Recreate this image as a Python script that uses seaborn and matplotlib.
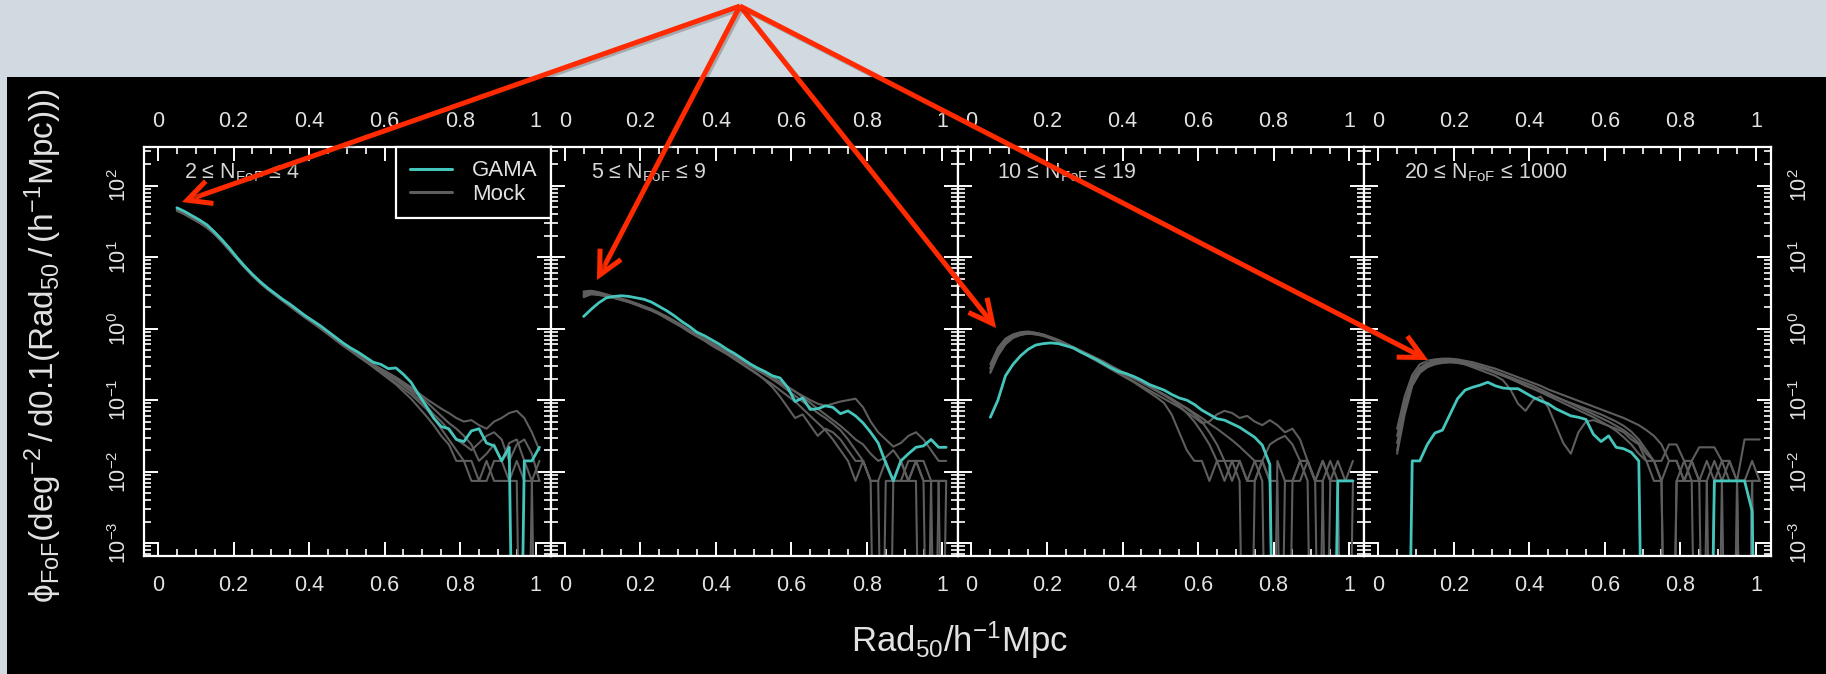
import numpy as np
import pandas as pd
import matplotlib
matplotlib.use("Agg")
import matplotlib.pyplot as plt
import seaborn as sns
from matplotlib.patches import Rectangle, FancyArrowPatch
from matplotlib.lines import Line2D
from matplotlib.ticker import LogLocator, FixedLocator, NullFormatter, NullLocator
import matplotlib.patheffects as pe

# ---------------- data (log10 of phi_FoF; -9 marks an empty bin) ----------------
RAD50 = np.round(np.arange(0.05, 1.02, 0.02), 2)   # bin centres, h^-1 Mpc

PANEL_LABELS = ["2 ≤ N$_{FoF}$ ≤ 4", "5 ≤ N$_{FoF}$ ≤ 9",
                "10 ≤ N$_{FoF}$ ≤ 19", "20 ≤ N$_{FoF}$ ≤ 1000"]
X_TICKS = [0, 0.2, 0.4, 0.6, 0.8, 1.0]
X_TICK_LABELS = ["0", "0.2", "0.4", "0.6", "0.8", "1"]

P1_GAMA = [1.69,1.64,1.58,1.52,1.45,1.35,1.24,1.12,0.99,0.87,
           0.76,0.66,0.57,0.49,0.41,0.34,0.26,0.18,0.11,0.04,
           -0.04,-0.12,-0.20,-0.27,-0.33,-0.40,-0.47,-0.50,-0.56,-0.55,
           -0.64,-0.75,-0.92,-1.08,-1.25,-1.37,-1.40,-1.55,-1.58,-1.43,
           -1.40,-1.60,-1.64,-1.85,-1.66,-9,-1.85,-1.85,-1.66]
P1_MOCKS = [
    [1.66,1.61,1.55,1.49,1.42,1.33,1.22,1.10,0.98,0.86,
     0.75,0.65,0.56,0.48,0.40,0.33,0.25,0.17,0.10,0.02,
     -0.06,-0.14,-0.22,-0.29,-0.36,-0.43,-0.50,-0.56,-0.62,-0.68,
     -0.75,-0.82,-0.90,-0.98,-1.05,-1.12,-1.18,-1.25,-1.30,-1.28,
     -1.35,-1.40,-1.30,-1.25,-1.18,-1.15,-1.25,-1.45,-1.70],
    [1.65,1.60,1.54,1.48,1.41,1.32,1.21,1.09,0.97,0.85,
     0.74,0.64,0.55,0.47,0.39,0.31,0.23,0.15,0.08,0.00,
     -0.08,-0.16,-0.24,-0.31,-0.39,-0.46,-0.54,-0.62,-0.70,-0.78,
     -0.88,-0.98,-1.10,-1.22,-1.35,-1.50,-1.62,-1.85,-1.85,-2.13,
     -2.13,-1.85,-2.13,-2.13,-2.13,-1.85,-2.13,-2.13,-1.85],
    [1.67,1.62,1.56,1.50,1.43,1.34,1.23,1.11,0.98,0.86,
     0.75,0.65,0.56,0.48,0.40,0.32,0.24,0.16,0.09,0.01,
     -0.07,-0.15,-0.23,-0.30,-0.37,-0.45,-0.52,-0.58,-0.66,-0.72,
     -0.80,-0.88,-0.98,-1.08,-1.20,-1.30,-1.42,-1.55,-1.62,-1.70,
     -1.60,-1.50,-1.45,-1.55,-1.85,-1.62,-1.55,-1.75,-2.13],
    [1.66,1.61,1.55,1.49,1.42,1.33,1.22,1.10,0.97,0.86,
     0.75,0.65,0.56,0.48,0.40,0.32,0.24,0.17,0.09,0.02,
     -0.06,-0.14,-0.22,-0.30,-0.37,-0.44,-0.51,-0.57,-0.63,-0.70,
     -0.77,-0.85,-0.93,-1.02,-1.12,-1.22,-1.32,-1.40,-1.50,-1.62,
     -1.85,-1.75,-1.62,-1.85,-1.60,-1.55,-1.85,-2.13,-9],
    [1.65,1.60,1.54,1.48,1.41,1.32,1.21,1.09,0.97,0.85,
     0.74,0.64,0.55,0.47,0.39,0.31,0.23,0.16,0.08,0.01,
     -0.07,-0.15,-0.23,-0.31,-0.38,-0.46,-0.53,-0.60,-0.68,-0.76,
     -0.84,-0.92,-1.02,-1.12,-1.25,-1.40,-1.55,-1.70,-1.85,-1.85,
     -2.13,-2.13,-1.85,-1.85,-2.13,-2.13,-9,-2.13,-2.13],
]

P2_GAMA = [0.17,0.27,0.36,0.43,0.45,0.46,0.45,0.43,0.41,0.37,
           0.31,0.25,0.18,0.10,0.03,-0.05,-0.10,-0.16,-0.22,-0.29,
           -0.35,-0.42,-0.49,-0.55,-0.60,-0.66,-0.69,-0.82,-1.02,-0.97,
           -1.13,-1.12,-1.08,-1.10,-1.19,-1.15,-1.22,-1.32,-1.45,-1.60,
           -1.88,-2.13,-1.85,-1.75,-1.66,-1.64,-1.55,-1.66,-1.66]
P2_MOCKS = [
    [0.50,0.52,0.50,0.47,0.44,0.41,0.38,0.35,0.31,0.27,
     0.22,0.16,0.10,0.04,-0.03,-0.09,-0.15,-0.21,-0.27,-0.33,
     -0.39,-0.45,-0.52,-0.58,-0.64,-0.71,-0.78,-0.86,-0.94,-1.02,
     -1.10,-1.18,-1.25,-1.33,-1.42,-1.55,-1.70,-1.85,-2.13,-2.13,
     -9,-2.13,-2.13,-2.13,-1.85,-2.13,-9,-2.13,-2.13],
    [0.46,0.49,0.48,0.46,0.43,0.41,0.38,0.34,0.30,0.26,
     0.21,0.15,0.09,0.03,-0.04,-0.10,-0.16,-0.22,-0.28,-0.35,
     -0.42,-0.49,-0.56,-0.63,-0.72,-0.82,-0.95,-1.10,-1.25,-1.20,
     -1.35,-1.50,-1.40,-1.45,-1.55,-1.70,-1.85,-1.85,-2.13,-2.13,
     -1.85,-2.13,-2.13,-1.85,-1.85,-2.13,-2.13,-9,-2.13],
    [0.48,0.50,0.49,0.46,0.43,0.40,0.37,0.34,0.30,0.26,
     0.21,0.15,0.09,0.03,-0.04,-0.10,-0.16,-0.22,-0.28,-0.34,
     -0.40,-0.46,-0.52,-0.58,-0.64,-0.70,-0.76,-0.82,-0.88,-0.94,
     -1.00,-1.05,-1.08,-1.05,-1.02,-1.00,-0.98,-1.10,-1.30,-1.45,
     -1.55,-1.65,-1.60,-1.50,-1.45,-1.55,-1.70,-1.85,-1.85],
    [0.44,0.48,0.47,0.45,0.43,0.40,0.37,0.33,0.29,0.25,
     0.20,0.14,0.08,0.02,-0.05,-0.11,-0.17,-0.24,-0.30,-0.36,
     -0.43,-0.50,-0.57,-0.64,-0.71,-0.78,-0.86,-0.94,-1.02,-1.12,
     -1.22,-1.32,-1.42,-1.55,-1.70,-1.85,-2.13,-1.85,-2.13,-9,
     -2.13,-2.13,-1.85,-2.13,-2.13,-9,-2.13,-2.13,-9],
    [0.52,0.53,0.51,0.48,0.45,0.42,0.39,0.35,0.31,0.27,
     0.22,0.17,0.11,0.05,-0.02,-0.08,-0.14,-0.20,-0.26,-0.32,
     -0.38,-0.44,-0.50,-0.56,-0.62,-0.68,-0.74,-0.81,-0.88,-0.96,
     -1.04,-1.12,-1.20,-1.28,-1.36,-1.45,-1.55,-1.62,-1.75,-1.85,
     -1.80,-1.70,-1.85,-2.13,-1.85,-1.85,-2.13,-2.13,-2.13],
]

P3_GAMA = [-1.24,-1.00,-0.66,-0.50,-0.38,-0.29,-0.23,-0.21,-0.20,-0.21,
           -0.24,-0.27,-0.33,-0.38,-0.43,-0.49,-0.55,-0.60,-0.63,-0.67,
           -0.72,-0.78,-0.82,-0.86,-0.92,-0.97,-1.00,-1.06,-1.14,-1.20,
           -1.26,-1.28,-1.33,-1.38,-1.45,-1.52,-1.63,-1.90,-9,-9,
           -9,-9,-9,-9,-9,-9,-2.13,-2.13,-2.13]
P3_MOCKS = [
    [-0.55,-0.30,-0.16,-0.09,-0.06,-0.05,-0.06,-0.09,-0.13,-0.17,
     -0.22,-0.27,-0.32,-0.37,-0.42,-0.48,-0.54,-0.60,-0.65,-0.70,
     -0.75,-0.80,-0.86,-0.92,-0.98,-1.05,-1.12,-1.20,-1.30,-1.45,
     -1.62,-1.85,-1.85,-1.85,-2.13,-1.85,-2.13,-9,-1.85,-2.13,
     -2.13,-1.85,-2.13,-9,-2.13,-1.85,-2.13,-2.13,-2.13],
    [-0.60,-0.36,-0.20,-0.12,-0.08,-0.07,-0.08,-0.10,-0.13,-0.17,
     -0.22,-0.27,-0.32,-0.38,-0.44,-0.50,-0.56,-0.62,-0.68,-0.74,
     -0.80,-0.86,-0.92,-0.98,-1.04,-1.10,-1.17,-1.24,-1.32,-1.30,
     -1.20,-1.15,-1.18,-1.25,-1.22,-1.30,-1.35,-1.28,-1.35,-1.45,
     -1.40,-1.55,-1.85,-2.13,-1.85,-2.13,-2.13,-9,-2.13],
    [-0.50,-0.27,-0.14,-0.08,-0.05,-0.04,-0.06,-0.08,-0.12,-0.16,
     -0.21,-0.26,-0.31,-0.36,-0.42,-0.47,-0.53,-0.58,-0.64,-0.69,
     -0.75,-0.81,-0.87,-0.93,-1.00,-1.08,-1.18,-1.30,-1.45,-1.62,
     -1.85,-2.13,-1.85,-2.13,-9,-2.13,-1.85,-2.13,-2.13,-9,
     -2.13,-2.13,-1.85,-2.13,-2.13,-9,-2.13,-2.13,-1.85],
    [-0.62,-0.38,-0.22,-0.13,-0.09,-0.07,-0.08,-0.10,-0.14,-0.18,
     -0.23,-0.28,-0.33,-0.39,-0.45,-0.51,-0.57,-0.63,-0.69,-0.75,
     -0.82,-0.89,-0.96,-1.04,-1.20,-1.45,-1.70,-1.85,-1.85,-2.13,
     -1.85,-1.85,-2.13,-1.85,-2.13,-2.13,-1.85,-2.13,-9,-2.13,
     -2.13,-1.85,-1.85,-2.13,-9,-2.13,-1.85,-2.13,-2.13],
    [-0.56,-0.32,-0.17,-0.10,-0.06,-0.05,-0.06,-0.09,-0.12,-0.16,
     -0.21,-0.26,-0.31,-0.36,-0.41,-0.46,-0.52,-0.58,-0.63,-0.69,
     -0.75,-0.81,-0.87,-0.93,-0.99,-1.05,-1.11,-1.18,-1.25,-1.33,
     -1.40,-1.48,-1.56,-1.65,-1.75,-1.85,-1.85,-1.62,-1.55,-1.50,
     -1.62,-1.85,-1.85,-2.13,-1.85,-2.13,-2.13,-2.13,-2.13],
]

P4_GAMA = [-9,-9,-1.85,-1.85,-1.62,-1.46,-1.42,-1.20,-0.98,-0.86,
           -0.82,-0.79,-0.75,-0.80,-0.83,-0.84,-0.84,-0.90,-0.96,-1.01,
           -1.05,-1.12,-1.17,-1.22,-1.24,-1.27,-1.48,-1.58,-1.50,-1.66,
           -1.68,-1.73,-1.85,-9,-9,-9,-9,-9,-9,-9,
           -9,-9,-2.13,-2.13,-2.13,-2.13,-2.13,-2.55,-9]
P4_MOCKS = [
    [-1.40,-0.95,-0.65,-0.50,-0.45,-0.43,-0.42,-0.42,-0.43,-0.45,
     -0.47,-0.50,-0.53,-0.56,-0.60,-0.64,-0.68,-0.72,-0.76,-0.80,
     -0.85,-0.89,-0.93,-0.97,-1.01,-1.05,-1.09,-1.13,-1.17,-1.21,
     -1.25,-1.30,-1.35,-1.42,-1.50,-1.62,-1.85,-1.85,-2.13,-1.85,
     -1.66,-1.66,-1.66,-1.85,-2.13,-2.13,-1.55,-1.55,-1.55],
    [-1.75,-1.20,-0.80,-0.62,-0.54,-0.50,-0.48,-0.47,-0.47,-0.48,
     -0.50,-0.53,-0.56,-0.60,-0.64,-0.68,-0.72,-0.76,-0.80,-0.85,
     -0.90,-0.95,-1.00,-1.05,-1.10,-1.15,-1.20,-1.25,-1.30,-1.36,
     -1.42,-1.50,-1.60,-1.75,-1.85,-2.13,-9,-2.13,-2.13,-1.85,
     -2.13,-2.13,-9,-2.13,-2.13,-2.13,-9,-2.13,-2.13],
    [-1.60,-1.10,-0.75,-0.58,-0.50,-0.47,-0.46,-0.46,-0.47,-0.50,
     -0.54,-0.58,-0.62,-0.66,-0.72,-0.85,-1.05,-1.15,-1.00,-0.95,
     -1.10,-1.35,-1.60,-1.75,-1.45,-1.30,-1.28,-1.32,-1.36,-1.40,
     -1.45,-1.55,-1.62,-1.85,-1.85,-2.13,-1.85,-1.85,-2.13,-2.13,
     -9,-2.13,-1.85,-2.13,-9,-2.13,-2.13,-1.85,-2.13],
    [-1.50,-1.05,-0.70,-0.55,-0.48,-0.45,-0.44,-0.44,-0.45,-0.47,
     -0.50,-0.53,-0.57,-0.61,-0.65,-0.70,-0.75,-0.80,-0.84,-0.88,
     -0.92,-0.96,-1.00,-1.04,-1.08,-1.12,-1.16,-1.20,-1.25,-1.30,
     -1.36,-1.44,-1.55,-1.70,-1.85,-1.85,-1.62,-1.62,-1.85,-1.85,
     -2.13,-1.85,-2.13,-2.13,-1.85,-2.13,-2.13,-2.13,-9],
    [-1.70,-1.15,-0.78,-0.60,-0.52,-0.48,-0.47,-0.47,-0.48,-0.50,
     -0.52,-0.55,-0.58,-0.62,-0.66,-0.70,-0.74,-0.79,-0.84,-0.89,
     -0.94,-0.99,-1.04,-1.09,-1.14,-1.19,-1.24,-1.30,-1.36,-1.43,
     -1.52,-1.62,-1.75,-1.85,-2.13,-2.13,-9,-2.13,-1.85,-2.13,
     -2.13,-9,-2.13,-1.85,-1.85,-2.13,-9,-2.13,-2.13],
]

GAMA_SERIES = [P1_GAMA, P2_GAMA, P3_GAMA, P4_GAMA]
MOCK_SERIES = [P1_MOCKS, P2_MOCKS, P3_MOCKS, P4_MOCKS]

# ---------------- tidy table ----------------
rows = []
for p in range(4):
    assert len(GAMA_SERIES[p]) == len(RAD50)
    for xv, lv in zip(RAD50, GAMA_SERIES[p]):
        rows.append((p, "GAMA", "GAMA", xv, 10.0 ** lv))
    for k, mock in enumerate(MOCK_SERIES[p]):
        assert len(mock) == len(RAD50)
        for xv, lv in zip(RAD50, mock):
            rows.append((p, "Mock", f"Mock{k}", xv, 10.0 ** lv))
df = pd.DataFrame(rows, columns=["panel", "kind", "series", "rad", "phi"])

# ---------------- style ----------------
sns.set_theme(style="ticks")
plt.rcParams["font.family"] = ["Liberation Sans", "DejaVu Sans"]
plt.rcParams["mathtext.default"] = "regular"

W, H = 1826, 674
BG_TOP = "#d2dae1"
CYAN = "#45c6bc"
MOCK = "#5e5e5e"
TXT = "#e2e2e2"
RED = "#ff2a00"

fig = plt.figure(figsize=(W / 100, H / 100), dpi=100)
fig.patch.set_facecolor(BG_TOP)
fig.add_artist(Rectangle((7 / W, 0), 1, (H - 77) / H, transform=fig.transFigure,
                         facecolor="black", edgecolor="none", zorder=-5))

ax_top, ax_bot = 147, 556
lefts = [144, 550.75, 957.5, 1364.25]
pw = 406.75

for p, L in enumerate(lefts):
    ax = fig.add_axes([L / W, (H - ax_bot) / H, pw / W, (ax_bot - ax_top) / H])
    ax.set_facecolor("black")
    sub = df[df.panel == p]
    sns.lineplot(data=sub[sub.kind == "Mock"], x="rad", y="phi", units="series",
                 estimator=None, sort=False, color=MOCK, lw=1.5, ax=ax, legend=False)
    sns.lineplot(data=sub[sub.kind == "GAMA"], x="rad", y="phi", estimator=None,
                 sort=False, color=CYAN, lw=2.0, ax=ax, legend=False)
    ax.set_yscale("log")
    ax.set_xlim(-0.037, 1.04)
    ax.set_ylim(10 ** -3.18, 10 ** 2.54)
    ax.set_xlabel("")
    ax.set_ylabel("")

    for s in ax.spines.values():
        s.set_color("white")
        s.set_linewidth(1.6)

    ax.xaxis.set_major_locator(FixedLocator(X_TICKS))
    ax.set_xticklabels(X_TICK_LABELS)
    ax.xaxis.set_minor_locator(FixedLocator(np.round(np.arange(0, 1.001, 0.05), 2)))
    ax.yaxis.set_major_locator(LogLocator(base=10, numticks=20))
    ax.yaxis.set_minor_locator(LogLocator(base=10, subs=np.arange(2, 10), numticks=20))
    ax.yaxis.set_minor_formatter(NullFormatter())
    ax.yaxis.set_major_formatter(plt.FuncFormatter(lambda v, pos: r"$10^{%d}$" % round(np.log10(v))))

    ax.tick_params(which="both", direction="in", top=True, bottom=True, left=True, right=True,
                   color="white", labelcolor=TXT, labelsize=15.5)
    ax.tick_params(which="major", length=10, width=1.4)
    ax.tick_params(which="minor", length=5, width=1.2)
    ax.tick_params(axis="x", labeltop=False, labelbottom=True, pad=14)
    ax.tick_params(axis="y", labelrotation=90, labelleft=(p == 0), labelright=(p == 3),
                   pad=(9.5 if p == 0 else 13))
    for lab in ax.get_yticklabels():
        lab.set_va("center")

    sec = ax.secondary_xaxis("top")
    sec.set_xticks(X_TICKS)
    sec.set_xticklabels(X_TICK_LABELS)
    sec.xaxis.set_minor_locator(NullLocator())
    sec.tick_params(length=0, pad=10.5, labelcolor=TXT, labelsize=15.5)
    for s in sec.spines.values():
        s.set_visible(False)

    ax.text(0.098, 0.937, PANEL_LABELS[p], transform=ax.transAxes, ha="left", va="center",
            color="#d6d6d6", fontsize=15.5)

    if p == 0:
        handles = [Line2D([0], [0], color=CYAN, lw=2.2), Line2D([0], [0], color=MOCK, lw=2.2)]
        leg = ax.legend(handles, ["GAMA", "Mock"], loc="upper right", bbox_to_anchor=(1.0, 1.0),
                        borderaxespad=0, fontsize=16, borderpad=0.6, labelspacing=0.1,
                        handlelength=1.9, handletextpad=0.9, fancybox=False, framealpha=1,
                        facecolor="black", edgecolor="white")
        leg.get_frame().set_linewidth(1.6)
        for t in leg.get_texts():
            t.set_color(TXT)

# axis titles
fig.text(43 / W, 1 - 346 / H,
         r"$\phi_{FoF}(deg^{-2}\,/\,d0.1(Rad_{50}\,/\,(h^{-1}Mpc)))$",
         rotation=90, ha="center", va="center", color=TXT, fontsize=24)
fig.text(959 / W, 1 - 640 / H, r"$Rad_{50}/h^{-1}Mpc$", ha="center", va="center",
         color=TXT, fontsize=25)

# red annotation arrows
apex = (740, 6)
targets = [(182, 202), (597, 280), (996, 328), (1428, 360)]
for tx, ty in targets:
    arr = FancyArrowPatch((apex[0] / W, 1 - apex[1] / H), (tx / W, 1 - ty / H),
                          transform=fig.transFigure, arrowstyle="->,head_length=1.7,head_width=0.85",
                          mutation_scale=10, lw=3.6, color=RED, shrinkA=0, shrinkB=0,
                          joinstyle="miter", capstyle="butt", zorder=20)
    arr.set_path_effects([pe.SimpleLineShadow(offset=(1.5, -1.5), shadow_color="k", alpha=0.25),
                          pe.Normal()])
    fig.add_artist(arr)

fig.savefig("out.png", dpi=100, facecolor=fig.get_facecolor())
